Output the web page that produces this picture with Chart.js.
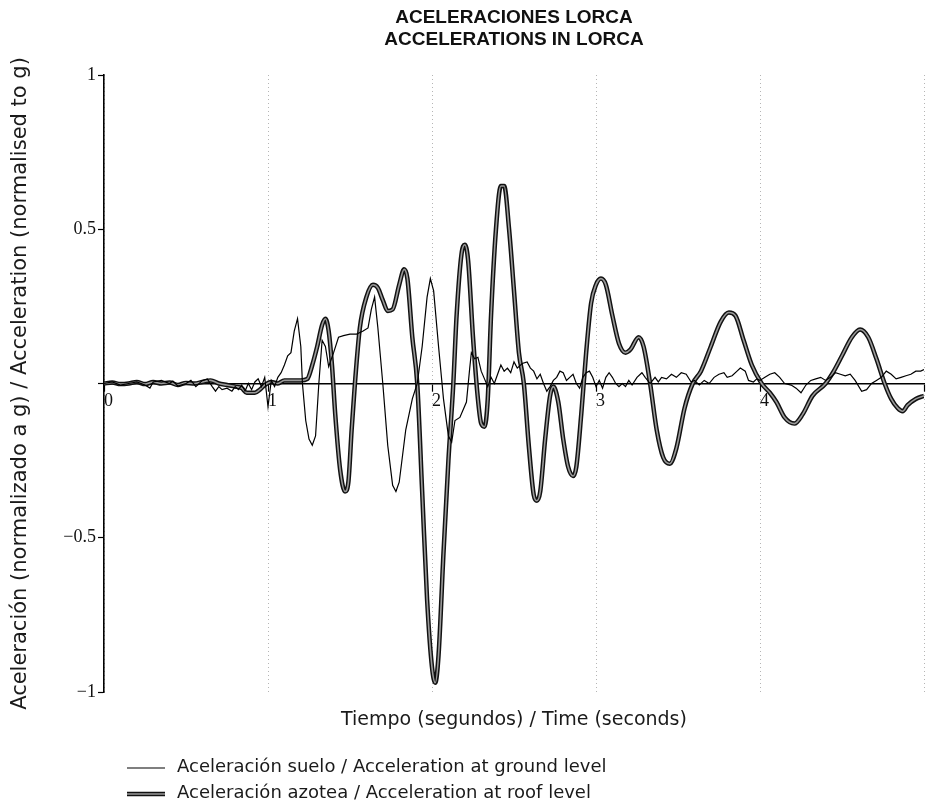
<!DOCTYPE html>
<html>
<head>
<title>Aceleraciones Lorca</title>
<script src="https://cdn.jsdelivr.net/npm/chart.js@4.4.1/dist/chart.umd.min.js"></script>
<style>
  body { margin: 0; background: #fff; }
</style>
</head>
<body>
<canvas id="myChart" width="926" height="809"></canvas>

<script>
// time (s) and acceleration (g)
var groundT = [0.00,0.05,0.10,0.15,0.20,0.25,0.28,0.30,0.35,0.40,0.42,0.45,0.50,0.53,0.56,0.60,0.63,0.66,0.68,0.70,
  0.72,0.75,0.78,0.80,0.82,0.84,0.86,0.88,0.90,0.92,0.94,0.96,0.98,1.00,1.02,1.04,1.06,1.08,1.10,1.12,
  1.14,1.16,1.18,1.20,1.21,1.23,1.25,1.27,1.29,1.31,1.33,1.35,1.37,1.40,1.43,1.46,1.50,1.54,1.58,1.61,
  1.63,1.65,1.67,1.70,1.73,1.76,1.78,1.80,1.84,1.88,1.91,1.94,1.97,1.99,2.01,2.04,2.07,2.10,2.12,2.14,
  2.17,2.21,2.23,2.24,2.26,2.28,2.30,2.32,2.34,2.36,2.38,2.40,2.42,2.44,2.46,2.48,2.50,2.52,2.55,2.58,
  2.60,2.62,2.64,2.66,2.68,2.70,2.72,2.74,2.76,2.78,2.80,2.82,2.84,2.86,2.88,2.90,2.92,2.94,2.96,2.98,
  3.00,3.02,3.04,3.06,3.08,3.10,3.12,3.14,3.16,3.18,3.20,3.22,3.25,3.28,3.30,3.33,3.36,3.38,3.40,3.43,
  3.46,3.49,3.52,3.55,3.58,3.60,3.63,3.66,3.69,3.72,3.75,3.78,3.80,3.83,3.86,3.88,3.91,3.93,3.96,3.98,
  4.00,4.03,4.06,4.09,4.12,4.15,4.19,4.22,4.25,4.28,4.31,4.34,4.37,4.40,4.43,4.46,4.49,4.52,4.55,4.58,
  4.62,4.65,4.68,4.71,4.74,4.77,4.80,4.83,4.86,4.89,4.92,4.95,4.98,5.00];
var groundA = [0.000,0.005,-0.005,0.000,0.005,-0.005,-0.015,0.005,0.010,0.000,0.008,-0.008,0.000,0.010,-0.010,0.010,0.015,-0.010,-0.025,-0.010,
  -0.020,-0.015,-0.025,-0.010,-0.020,-0.005,-0.025,0.000,-0.020,0.005,0.015,-0.010,0.020,-0.075,0.010,-0.010,0.020,0.035,0.060,0.090,
  0.100,0.170,0.210,0.120,0.000,-0.120,-0.180,-0.200,-0.170,0.000,0.140,0.120,0.055,0.100,0.150,0.155,0.160,0.160,0.170,0.180,
  0.240,0.280,0.180,0.000,-0.200,-0.330,-0.350,-0.320,-0.150,-0.050,0.000,0.120,0.280,0.340,0.300,0.120,-0.050,-0.170,-0.190,-0.120,
  -0.110,-0.060,0.050,0.100,0.080,0.085,0.040,0.015,-0.010,0.020,0.000,0.030,0.060,0.040,0.050,0.035,0.070,0.050,0.065,0.070,
  0.050,0.040,0.015,0.030,0.000,-0.025,-0.010,0.010,0.020,0.040,0.035,0.010,0.020,0.030,0.000,-0.015,0.020,0.035,0.040,0.020,
  -0.010,0.010,-0.015,0.020,0.035,0.020,0.000,-0.010,0.000,-0.010,0.010,-0.005,0.020,0.035,0.020,0.000,0.020,0.005,0.020,0.015,
  0.030,0.020,0.035,0.030,0.005,0.010,-0.005,0.010,0.000,0.020,0.030,0.035,0.020,0.025,0.040,0.050,0.040,0.010,0.005,0.015,
  0.010,0.020,0.030,0.035,0.020,0.000,-0.005,-0.015,-0.030,-0.005,0.010,0.015,0.020,0.010,0.020,0.035,0.030,0.025,0.030,0.010,
  -0.025,-0.020,0.000,0.010,0.020,0.040,0.030,0.015,0.020,0.025,0.030,0.040,0.040,0.045];

var roofT = [0.00,0.05,0.10,0.15,0.20,0.25,0.30,0.35,0.40,0.45,0.50,0.55,0.60,0.65,0.70,0.75,0.80,0.84,0.87,0.92,
  0.95,0.98,1.02,1.06,1.10,1.15,1.20,1.24,1.27,1.30,1.33,1.35,1.37,1.39,1.41,1.44,1.47,1.49,1.51,1.53,
  1.56,1.60,1.64,1.67,1.70,1.73,1.76,1.80,1.83,1.85,1.88,1.91,1.94,1.97,2.00,2.02,2.04,2.07,2.10,2.13,
  2.15,2.18,2.20,2.22,2.25,2.28,2.30,2.32,2.34,2.36,2.39,2.42,2.44,2.47,2.50,2.53,2.56,2.59,2.62,2.64,
  2.66,2.69,2.72,2.74,2.77,2.80,2.83,2.86,2.88,2.91,2.94,2.97,3.00,3.03,3.06,3.10,3.14,3.18,3.21,3.26,
  3.29,3.33,3.37,3.41,3.45,3.49,3.54,3.59,3.64,3.70,3.76,3.81,3.85,3.90,3.95,4.01,4.06,4.10,4.15,4.21,
  4.26,4.32,4.40,4.45,4.50,4.56,4.61,4.66,4.71,4.76,4.80,4.84,4.87,4.90,4.95,5.00];
var roofA = [0.000,0.003,-0.002,0.000,0.005,-0.002,0.005,0.000,0.003,-0.005,0.002,0.000,0.005,0.010,0.000,-0.005,-0.010,-0.015,-0.030,-0.030,
  -0.020,-0.005,0.005,0.000,0.010,0.010,0.010,0.015,0.060,0.120,0.190,0.210,0.170,0.060,-0.100,-0.280,-0.350,-0.320,-0.150,0.000,
  0.180,0.280,0.320,0.310,0.270,0.235,0.240,0.320,0.370,0.340,0.150,0.000,-0.350,-0.700,-0.920,-0.970,-0.880,-0.550,-0.250,0.000,
  0.220,0.420,0.450,0.400,0.150,-0.050,-0.130,-0.140,-0.050,0.220,0.500,0.640,0.640,0.500,0.300,0.100,0.000,-0.200,-0.360,-0.380,
  -0.350,-0.180,-0.040,-0.010,-0.060,-0.180,-0.270,-0.300,-0.270,-0.100,0.100,0.260,0.320,0.340,0.320,0.220,0.130,0.100,0.110,0.150,
  0.120,0.000,-0.150,-0.240,-0.260,-0.210,-0.080,0.000,0.040,0.120,0.200,0.230,0.220,0.140,0.060,0.000,-0.030,-0.060,-0.110,-0.130,
  -0.100,-0.040,0.000,0.040,0.090,0.150,0.175,0.150,0.080,0.000,-0.050,-0.080,-0.090,-0.070,-0.050,-0.040];

var xTicks = [0, 1, 2, 3, 4];
var seriesNames = ['Aceleración suelo / Acceleration at ground level', 'Aceleración azotea / Acceleration at roof level'];

function pairs(t, a) {
    var out = [];
    for (var i = 0; i < t.length; i++) out.push({x: t[i], y: a[i]});
    return out;
}

var sansFont = "'DejaVu Sans', 'Liberation Sans', sans-serif";
var serifFont = "'Liberation Serif', 'Times New Roman', serif";

// legend drawn under the axis title, two rows
var legendPlugin = {
    id: 'rowsLegend',
    afterDraw: function (chart) {
        var ctx = chart.ctx;
        ctx.save();
        ctx.font = '18px ' + sansFont;
        ctx.fillStyle = '#1a1a1a';
        ctx.textBaseline = 'middle';
        ctx.textAlign = 'left';
        // ground
        ctx.strokeStyle = '#000';
        ctx.lineWidth = 1.2;
        ctx.beginPath(); ctx.moveTo(127, 768); ctx.lineTo(165, 768); ctx.stroke();
        ctx.fillText(seriesNames[0], 177, 767);
        // roof
        ctx.strokeStyle = '#111';
        ctx.lineWidth = 4.5;
        ctx.beginPath(); ctx.moveTo(127, 794); ctx.lineTo(165, 794); ctx.stroke();
        ctx.strokeStyle = '#9a9a9a';
        ctx.lineWidth = 1.6;
        ctx.beginPath(); ctx.moveTo(127, 794); ctx.lineTo(165, 794); ctx.stroke();
        ctx.fillText(seriesNames[1], 177, 793);
        ctx.restore();
    }
};

var chartTarget = document.getElementById('myChart');
var chart = new Chart(chartTarget, {
    type: 'line',
    data: {
        datasets: [
            {
                label: seriesNames[0],
                data: pairs(groundT, groundA),
                borderColor: '#000',
                borderWidth: 1.2,
                pointRadius: 0,
                tension: 0,
                order: 1
            },
            {
                label: seriesNames[1],
                data: pairs(roofT, roofA),
                borderColor: '#9a9a9a',
                borderWidth: 1.6,
                pointRadius: 0,
                cubicInterpolationMode: 'monotone',
                order: 2
            },
            {
                label: 'roof outline',
                data: pairs(roofT, roofA),
                borderColor: '#111',
                borderWidth: 4.5,
                pointRadius: 0,
                cubicInterpolationMode: 'monotone',
                order: 3
            }
        ]
    },
    options: {
        responsive: false,
        animation: false,
        devicePixelRatio: 1,
        layout: { padding: { left: 0, right: 2, top: 7, bottom: 76 } },
        plugins: {
            legend: { display: false },
            tooltip: { enabled: false },
            title: {
                display: true,
                fullSize: false,
                text: ['ACELERACIONES LORCA', 'ACCELERATIONS IN LORCA'],
                color: '#111',
                font: { family: "'Liberation Sans Narrow', 'Liberation Sans', Arial, sans-serif", size: 19, weight: 'bold', lineHeight: 1.15 },
                padding: { top: 0, bottom: 24.3 }
            }
        },
        scales: {
            x: {
                type: 'linear',
                position: { y: 0 },
                min: 0,
                max: 5,
                afterBuildTicks: function (scale) {
                    scale.ticks = xTicks.concat([5]).map(function (v) { return {value: v}; });
                },
                ticks: {
                    align: 'start',
                    padding: 0,
                    color: '#111',
                    font: { family: serifFont, size: 18 },
                    callback: function (v) { return xTicks.indexOf(v) >= 0 ? String(v) : ''; }
                },
                grid: {
                    color: '#b5b5b5',
                    lineWidth: 1,
                    tickLength: 7,
                    tickColor: '#000',
                    tickWidth: 1.2
                },
                border: { color: '#000', width: 1.6, dash: [1, 3] }
            },
            x2: {
                type: 'linear',
                position: 'bottom',
                min: 0,
                max: 5,
                ticks: { display: false },
                grid: { display: false, drawTicks: false },
                border: { display: false },
                title: {
                    display: true,
                    text: 'Tiempo (segundos) / Time (seconds)',
                    color: '#1a1a1a',
                    font: { family: sansFont, size: 19, lineHeight: 1.2 },
                    padding: { top: 0, bottom: 2 }
                },
                afterFit: function (scale) { scale.height = 41; }
            },
            y: {
                type: 'linear',
                position: 'left',
                min: -1,
                max: 1,
                ticks: {
                    stepSize: 0.5,
                    padding: 2,
                    color: '#111',
                    font: { family: serifFont, size: 18 },
                    callback: function (v) {
                        if (v === 0) return '';
                        return v < 0 ? '\u2212' + Math.abs(v) : String(v);
                    }
                },
                grid: {
                    drawOnChartArea: false,
                    tickLength: 6,
                    tickColor: '#000',
                    tickWidth: 1.2
                },
                border: { color: '#000', width: 1.6 },
                title: {
                    display: true,
                    text: 'Aceleración (normalizado a g) / Acceleration (normalised to g)',
                    color: '#1a1a1a',
                    font: { family: sansFont, size: 21, lineHeight: 1.2 },
                    padding: { top: 8, bottom: 0 }
                },
                afterFit: function (scale) { scale.width = 104; }
            }
        }
    },
    plugins: [legendPlugin]
});
</script>
</body>
</html>
